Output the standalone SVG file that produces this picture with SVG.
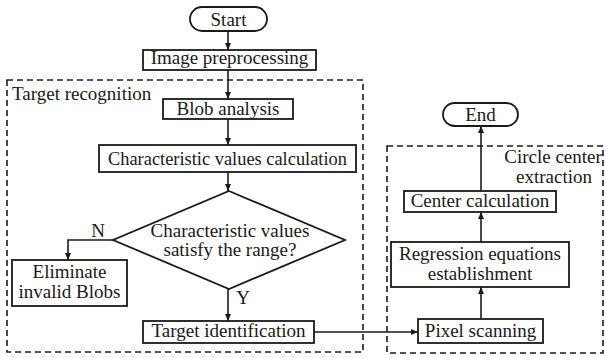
<svg xmlns="http://www.w3.org/2000/svg" width="606" height="358" viewBox="0 0 606 358">
<defs>
<marker id="ah" markerWidth="8" markerHeight="8" refX="7" refY="4" orient="auto" markerUnits="userSpaceOnUse">
<path d="M0,1 L7,4 L0,7 Z" fill="#1a1a1a"/>
</marker>
<style>
text{font-size:19px;fill:#1a1a1a}
.c{text-anchor:middle}
.box{fill:#fff;stroke:#1a1a1a;stroke-width:1.8}
.grp{fill:none;stroke:#1a1a1a;stroke-width:1.6;stroke-dasharray:6,4}
.ln{fill:none;stroke:#1a1a1a;stroke-width:1.6;marker-end:url(#ah)}
</style>
</defs>
<rect width="606" height="358" fill="#fff"/>
<g font-family="Liberation Serif, serif">
<g id="group-target-recognition">
<rect class="grp" x="7" y="80" width="356" height="272"/>
<text x="12" y="100" font-family="Liberation Serif, serif">Target recognition</text>
</g>
<g id="group-circle-center">
<rect class="grp" x="387" y="146" width="216" height="207"/>
<text class="c" x="553" y="163" font-family="Liberation Serif, serif">Circle center</text>
<text class="c" x="554" y="183" font-family="Liberation Serif, serif">extraction</text>
</g>
<g id="connectors">
<path class="ln" d="M228,31 V50"/>
<path class="ln" d="M228,70 V99"/>
<path class="ln" d="M228,119 V145"/>
<path class="ln" d="M228,172 V191"/>
<path class="ln" d="M113,240 H68 V260"/>
<path class="ln" d="M228,289 V321"/>
<path class="ln" d="M314,332 H418"/>
<path class="ln" d="M481,319 V287"/>
<path class="ln" d="M481,242 V212"/>
<path class="ln" d="M481,191 V126"/>
<text class="c" x="98" y="237" font-family="Liberation Serif, serif">N</text>
<text class="c" x="243" y="304" font-family="Liberation Serif, serif">Y</text>
</g>
<g id="start">
<rect class="box" x="190" y="7" width="77" height="24" rx="12"/>
<text class="c" x="228.5" y="26" font-family="Liberation Serif, serif">Start</text>
</g>
<g id="image-preprocessing">
<rect class="box" x="143" y="50" width="173" height="20"/>
<text class="c" x="229.5" y="64" font-family="Liberation Serif, serif">Image preprocessing</text>
</g>
<g id="blob-analysis">
<rect class="box" x="163" y="99" width="130" height="20"/>
<text class="c" x="228" y="115" font-family="Liberation Serif, serif">Blob analysis</text>
</g>
<g id="char-values-calc">
<rect class="box" x="99" y="145" width="257" height="27"/>
<text class="c" x="227.5" y="165" font-family="Liberation Serif, serif" style="font-size:18.4px">Characteristic values calculation</text>
</g>
<g id="decision">
<polygon class="box" points="229,191 345,240 229,289 113,240"/>
<text class="c" x="230" y="237" font-family="Liberation Serif, serif">Characteristic values</text>
<text class="c" x="230" y="256" font-family="Liberation Serif, serif">satisfy the range?</text>
</g>
<g id="eliminate">
<rect class="box" x="12" y="260" width="115" height="46"/>
<text class="c" x="69.5" y="278" font-family="Liberation Serif, serif">Eliminate</text>
<text class="c" x="69.5" y="298" font-family="Liberation Serif, serif">invalid Blobs</text>
</g>
<g id="target-identification">
<rect class="box" x="143" y="321" width="171" height="22"/>
<text class="c" x="228.5" y="337" font-family="Liberation Serif, serif">Target identification</text>
</g>
<g id="pixel-scanning">
<rect class="box" x="418" y="319" width="125" height="24"/>
<text class="c" x="480.5" y="337" font-family="Liberation Serif, serif">Pixel scanning</text>
</g>
<g id="regression">
<rect class="box" x="391" y="242" width="178" height="45"/>
<text class="c" x="480" y="260" font-family="Liberation Serif, serif">Regression equations</text>
<text class="c" x="480" y="280" font-family="Liberation Serif, serif">establishment</text>
</g>
<g id="center-calculation">
<rect class="box" x="404" y="191" width="152" height="21"/>
<text class="c" x="480" y="207" font-family="Liberation Serif, serif">Center calculation</text>
</g>
<g id="end">
<rect class="box" x="443" y="103" width="75" height="23" rx="11.5"/>
<text class="c" x="480.5" y="121" font-family="Liberation Serif, serif">End</text>
</g>
</g>
</svg>
